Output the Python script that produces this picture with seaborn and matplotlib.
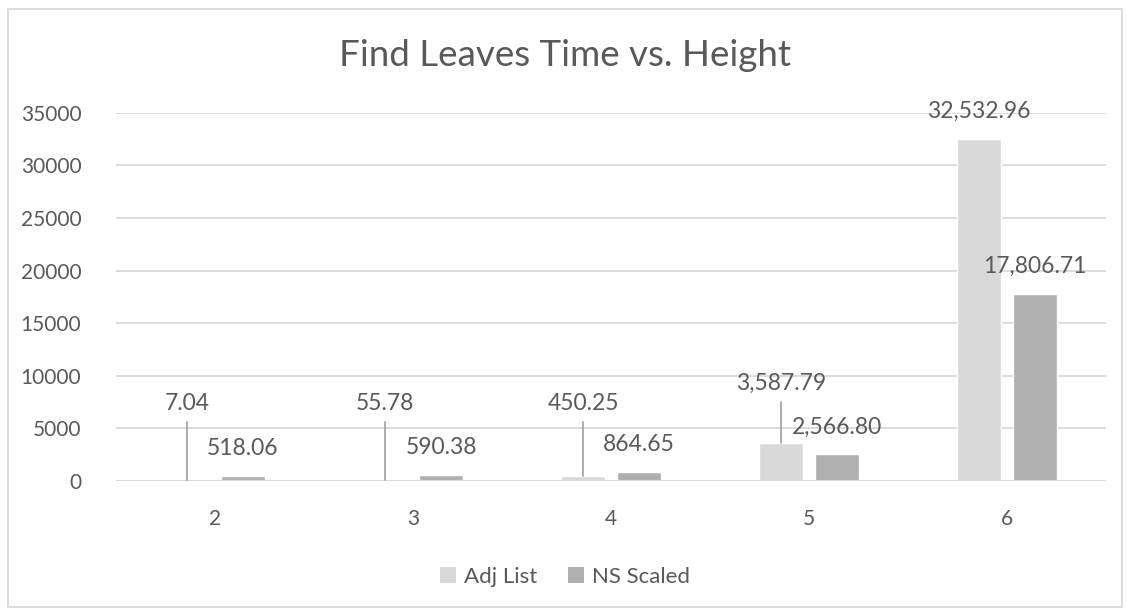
import matplotlib
matplotlib.use("Agg")
import matplotlib.pyplot as plt
import seaborn as sns
import pandas as pd
from matplotlib.patches import Rectangle, Patch

# ---- data ----
heights = ["2", "3", "4", "5", "6"]
adj_list = [7.04, 55.78, 450.25, 3587.79, 32532.96]
ns_scaled = [518.06, 590.38, 864.65, 2566.80, 17806.71]
series_names = ["Adj List", "NS Scaled"]
title = "Find Leaves Time vs. Height"
yticks = [0, 5000, 10000, 15000, 20000, 25000, 30000, 35000]

# labels that were dragged away from their bars (index -> label height in data units)
adj_moved_label_y = {0: 7330, 1: 7330, 2: 7330, 3: 9240}

df = pd.DataFrame({
    "Height": heights * 2,
    "Time": adj_list + ns_scaled,
    "Series": [series_names[0]] * len(heights) + [series_names[1]] * len(heights),
})

sns.set_theme(style="white")
FONT = ["Lato", "DejaVu Sans"]
plt.rcParams["font.family"] = FONT
TXT = "#595959"
GRID = "#d9d9d9"
colors = {"Adj List": "#d9d9d9", "NS Scaled": "#afafaf"}

fig = plt.figure(figsize=(11.3, 6.15), dpi=100)
fig.patch.set_facecolor("white")
ax = fig.add_axes([0.1027, 0.2179, 0.9788 - 0.1027, 0.8167 - 0.2179])

sns.barplot(data=df, x="Height", y="Time", hue="Series", order=heights,
            hue_order=series_names, palette=colors, width=0.566, gap=0.215,
            saturation=1, ax=ax, legend=False, errorbar=None, zorder=3)

ax.set_ylim(0, 35000)
ax.set_xlim(-0.5, len(heights) - 0.5)
ax.set_yticks(yticks)
ax.set_yticklabels([str(t) for t in yticks])
ax.yaxis.grid(True, color=GRID, linewidth=1.3, zorder=0)
ax.set_axisbelow(True)
for s in ax.spines.values():
    s.set_visible(False)
ax.axhline(0, color=GRID, linewidth=1.5, zorder=4)
ax.tick_params(axis="both", length=0, labelsize=15, labelcolor=TXT)
ax.tick_params(axis="x", pad=20)
ax.tick_params(axis="y", pad=25)
ax.set_xlabel("")
ax.set_ylabel("")

# data labels
for si, cont in enumerate(ax.containers):
    for i, bar in enumerate(cont):
        xc = bar.get_x() + bar.get_width() / 2
        top = bar.get_height()
        lab = f"{top:,.2f}"
        if si == 0 and i in adj_moved_label_y:
            ly = adj_moved_label_y[i]
            ax.text(xc, ly, lab, ha="center", va="center", fontsize=16.5,
                    color=TXT, zorder=5)
            ax.plot([xc, xc], [top, ly - 1750], color="#a6a6a6",
                    linewidth=1.3, zorder=4)
        else:
            ax.annotate(lab, (xc, top), xytext=(0, 19.5),
                        textcoords="offset points", ha="center", va="center",
                        fontsize=16.5, color=TXT, zorder=5, annotation_clip=False)

fig.text(0.5, 0.909, title, ha="center", va="center", fontsize=26.5, color=TXT)

handles = [Patch(facecolor=colors[n], edgecolor="none") for n in series_names]
fig.legend(handles, series_names, loc="center", bbox_to_anchor=(0.5, 0.062),
           ncol=2, frameon=False, fontsize=16, labelcolor=TXT,
           handlelength=0.7, handleheight=0.7, handletextpad=0.35,
           columnspacing=1.4)

fig.patches.append(Rectangle((0.007, 0.013), 0.986, 0.972, transform=fig.transFigure,
                             fill=False, edgecolor="#d9d9d9", linewidth=1.3))

fig.savefig("out.png", dpi=100)
